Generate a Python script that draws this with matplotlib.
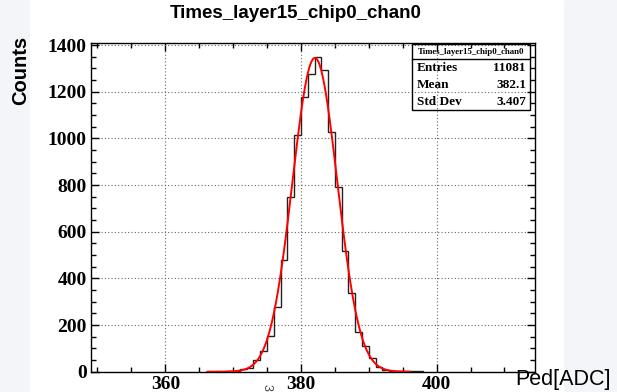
import numpy as np
import matplotlib
matplotlib.use('Agg')
import matplotlib.pyplot as plt
from matplotlib.patches import Rectangle
from matplotlib.ticker import MultipleLocator

# ---------- data ----------
first_bin = 369          # left edge of first filled bin, bin width 1 ADC
counts = [1, 4, 11, 14, 51, 90, 151, 279, 479, 751, 1014, 1179, 1276, 1347,
          1294, 1029, 791, 517, 337, 171, 109, 59, 19, 9, 4, 4, 2, 2, 1]

# gaussian fit shown in red
fit_const = 1345
fit_mean = 382.05
fit_sigma = 3.3
fit_range = (366.2, 396.0)

hist_name = 'Times_layer15_chip0_chan0'
stats_names = ['Entries', 'Mean', 'Std Dev']
stats_values = ['11081', '382.1', '3.407']

W, H = 617, 392
serif = 'Liberation Serif'
sans = 'Liberation Sans'


def fx(px):
    return px / W


def fy(py):
    return 1 - py / H


# ---------- figure ----------
fig = plt.figure(figsize=(W / 100, H / 100), dpi=100, facecolor='#f3f5f9')
fig.patches.append(Rectangle((fx(30), 0), fx(563) - fx(30), 1,
                             transform=fig.transFigure, color='white', zorder=-5))

ax = fig.add_axes([fx(90.7), fy(371.7), fx(535) - fx(90.7), fy(43) - fy(371.7)])
ax.set_facecolor('white')

edges = np.arange(first_bin, first_bin + len(counts) + 1)
ax.stairs(counts, edges, color='#222222', lw=1.0, zorder=3)

xf = np.linspace(fit_range[0], fit_range[1], 400)
yf = fit_const * np.exp(-0.5 * ((xf - fit_mean) / fit_sigma) ** 2)
ax.plot(xf, yf, color='red', lw=1.4, zorder=4)

ax.set_xlim(349, 414.5)
ax.set_ylim(0, 1409)

# ---------- ticks / grid ----------
ax.xaxis.set_major_locator(MultipleLocator(20))
ax.xaxis.set_minor_locator(MultipleLocator(5))
ax.yaxis.set_major_locator(MultipleLocator(200))
ax.yaxis.set_minor_locator(MultipleLocator(50))
ax.tick_params(which='both', direction='in', top=True, right=True, width=1)
ax.tick_params(which='major', length=6, pad=3)
ax.tick_params(which='minor', length=3.5)
ax.grid(True, which='major', color='#666666', ls=(0, (1, 2)), lw=0.8)
for s in ax.spines.values():
    s.set_linewidth(1.0)

for lab in ax.get_xticklabels() + ax.get_yticklabels():
    lab.set_fontfamily(serif)
    lab.set_fontweight('bold')
    lab.set_fontsize(14)

# ---------- labels ----------
fig.text(0.5 - 0.02, fy(13), hist_name, ha='center', va='center',
         family=sans, weight='bold', size=13.5)
fig.text(fx(21), fy(70), 'Counts', rotation=90, ha='center', va='center',
         family=sans, weight='bold', size=14.5)
fig.text(fx(611), fy(380), 'Ped[ADC]', ha='right', va='center',
         family=sans, size=15.5)
fig.text(fx(267), fy(387), '3', rotation=-90, ha='center', va='center',
         family=sans, size=9, color='#444444')

# ---------- stats box ----------
bx0, bx1, by0, by1 = 412, 530, 44, 110
fig.patches.append(Rectangle((fx(bx0), fy(by1)), fx(bx1) - fx(bx0), fy(by0) - fy(by1),
                             transform=fig.transFigure, fill=False,
                             edgecolor='black', lw=1.0, zorder=5))
fig.lines.append(plt.Line2D([fx(bx0), fx(bx1)], [fy(59), fy(59)],
                            transform=fig.transFigure, color='black', lw=1.0, zorder=5))
fig.text((fx(bx0) + fx(bx1)) / 2, fy(51.5), hist_name, ha='center', va='center',
         family=serif, weight='bold', size=6.3)
row_y = [68, 85, 102]
for name, val, yy in zip(stats_names, stats_values, row_y):
    fig.text(fx(bx0 + 5), fy(yy), name, ha='left', va='center',
             family=serif, weight='bold', size=9.5)
    fig.text(fx(bx1 - 4), fy(yy), val, ha='right', va='center',
             family=serif, weight='bold', size=9.5)

fig.savefig('out.png', dpi=100, facecolor=fig.get_facecolor())
